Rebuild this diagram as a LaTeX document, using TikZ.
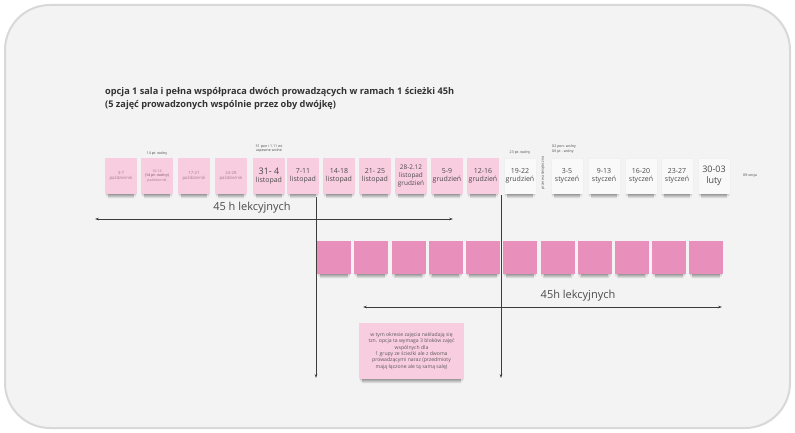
\documentclass[tikz,border=0pt]{standalone}
\usepackage{fontspec}
\setmainfont{Open Sans}
\usetikzlibrary{arrows.meta}
\definecolor{bg}{HTML}{F3F3F3}
\definecolor{framec}{HTML}{D8D8D8}
\definecolor{pinklight}{HTML}{F9CDE0}
\definecolor{pinkdeep}{HTML}{E88FBC}
\definecolor{notewhite}{HTML}{F9F9F9}
\definecolor{txtdark}{HTML}{4A4A4A}
\definecolor{txtpink}{HTML}{A77A8E}
\definecolor{linec}{HTML}{3C3C3C}
\newcommand\mynoteshadow[1]{%
  \shade[top color=black!38, bottom color=bg] ([xshift=3pt]#1.south west) rectangle ([xshift=-3pt,yshift=-4pt]#1.south east);
  \shade[top color=black!18, bottom color=bg] ([xshift=1pt]#1.south west) rectangle ([xshift=3pt,yshift=-2.5pt]#1.south west);
  \shade[top color=black!18, bottom color=bg] ([xshift=-3pt]#1.south east) rectangle ([xshift=-1pt,yshift=-2.5pt]#1.south east);}
\tikzset{
  sticky/.style={minimum width=32pt, minimum height=36pt, inner sep=0pt, align=center, font=\fontsize{7}{8.5}\selectfont, text=txtdark},
  pinknote/.style={sticky, fill=pinklight},
  whitenote/.style={sticky, fill=notewhite, draw=black!6, line width=0.4pt},
  smallpink/.style={pinknote, font=\fontsize{4.3}{5.6}\selectfont, text=txtpink},
  deepnote/.style={fill=pinkdeep, minimum width=34pt, minimum height=33pt, inner sep=0pt},
  tinylabel/.style={font=\fontsize{3.6}{4.6}\selectfont, text=txtdark, inner sep=0pt, align=center},
  conn/.style={draw=linec, line width=0.6pt},
  tipend/.style={-{Stealth[length=4pt,width=2.6pt]}},
  bothtips/.style={{Stealth[length=4pt,width=2.6pt]}-{Stealth[length=4pt,width=2.6pt]}},
  spanlabel/.style={font=\fontsize{11}{13}\selectfont, text=txtdark, inner sep=0pt},
  titletext/.style={font=\bfseries\fontsize{9.2}{10.5}\selectfont, text=black!80, inner sep=0pt, anchor=west},
}
\begin{document}
\begin{tikzpicture}[x=1pt, y=-1pt]
\useasboundingbox (0,0) rectangle (795,433);
\fill[white] (0,0) rectangle (795,433);
\fill[bg, draw=framec, line width=2pt, rounded corners=45pt] (5,5) rectangle (790,428);

% title
\node[titletext] (title1) at (105,92) {opcja 1 sala i pełna współpraca dwóch prowadzących w ramach 1 ścieżki 45h};
\node[titletext] (title2) at (105,105) {(5 zajęć prowadzonych wspólnie przez oby dwójkę)};

% vertical connectors (behind notes)
\coordinate (v1a) at (316,197);
\coordinate (v1b) at (316,378);
\coordinate (v2a) at (501,195);
\coordinate (v2b) at (501,378);
\draw[conn,tipend] (v1a) -- (v1b);
\draw[conn,tipend] (v2a) -- (v2b);

% top row
\node[smallpink] (n1) at (121,176) {3-7\\październik};
\node[smallpink, font=\fontsize{3.6}{4.8}\selectfont] (n2) at (157,176) {10-14\\\textbf{(14 pt- wolny)}\\październik};
\node[smallpink] (n3) at (194,176) {17-21\\październik};
\node[smallpink] (n4) at (231,176) {24-28\\październik};
\node[pinknote] (n5) at (269,176) {{\fontsize{9}{10}\selectfont 31- 4}\\listopad};
\node[pinknote] (n6) at (303,176) {7-11\\listopad};
\node[pinknote] (n7) at (339,176) {14-18\\listopad};
\node[pinknote] (n8) at (375,176) {21- 25\\listopad};
\node[pinknote, font=\fontsize{6.4}{7.6}\selectfont] (n9) at (411,176) {28-2.12\\listopad\\grudzień};
\node[pinknote] (n10) at (447,176) {5-9\\grudzień};
\node[pinknote] (n11) at (483,176) {12-16\\grudzień};
\node[whitenote] (n12) at (520,176) {19-22\\grudzień};
\node[whitenote] (n13) at (567,176) {3-5\\styczeń};
\node[whitenote] (n14) at (604,176) {9-13\\styczeń};
\node[whitenote] (n15) at (641,176) {16-20\\styczeń};
\node[whitenote] (n16) at (677,176) {23-27\\styczeń};
\node[whitenote, font=\fontsize{9}{10.5}\selectfont] (n17) at (714,176) {30-03\\luty};
\foreach \k in {1,...,17} {\mynoteshadow{n\k}}

% small labels
\node[tinylabel] (l2) at (157,154) {14 pt- wolny};
\node[tinylabel] (l5) at (269,148.5) {31 pon i 1.11 wt\\zapewne wolne};
\node[tinylabel] (l12) at (520,153) {23 pt- wolny};
\node[tinylabel, align=left, anchor=west] (l13) at (552,149) {02 pon- wolny\\06 pt - wolny};
\node[tinylabel, rotate=90] (przerwa) at (543,173) {przerwa świąteczna};
\node[tinylabel] (sesja) at (750,176) {09-sesja};

% span arrow 1
\coordinate (a1l) at (95,219);
\coordinate (a1r) at (453,219);
\draw[conn,bothtips] (a1l) -- (a1r);
\node[spanlabel] (s1) at (252,208) {45 h lekcyjnych};

% second row
\foreach \k/\xx in {1/334,2/371,3/408.5,4/445.5,5/483,6/520,7/557.5,8/594.5,9/631.5,10/669,11/706} {
  \node[deepnote] (m\k) at (\xx,257.5) {};
  \mynoteshadow{m\k}
}

% span arrow 2
\coordinate (a2l) at (363,307);
\coordinate (a2r) at (722,307);
\draw[conn,bothtips] (a2l) -- (a2r);
\node[spanlabel] (s2) at (578,296) {45h lekcyjnych};

% comment note
\node[fill=pinklight, minimum width=105pt, minimum height=56pt, inner sep=0pt, align=center, font=\fontsize{5.1}{6.4}\selectfont, text=black!65] (comment) at (411.5,351) {w tym okresie zajęcia nakładają się\\tzn. opcja ta wymaga 3 bloków zajęć\\wspólnych dla\\1 grupy ze ścieżki ale z dwoma\\prowadzącymi naraz (przedmioty\\mają łączone ale tą samą salę)};
\mynoteshadow{comment}
\end{tikzpicture}
\end{document}
